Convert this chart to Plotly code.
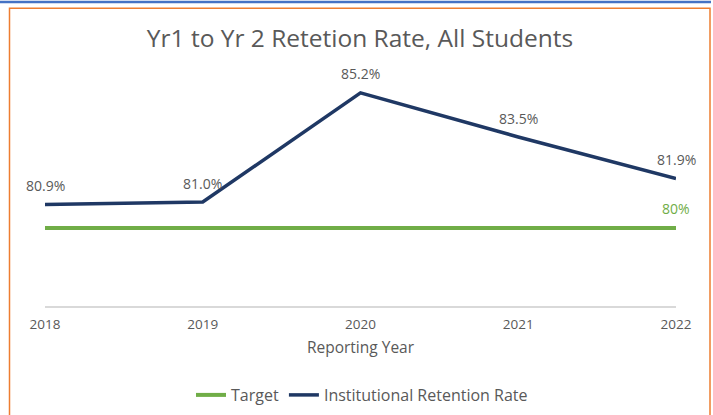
import plotly.graph_objects as go

years = [2018, 2019, 2020, 2021, 2022]
retention = [80.9, 81.0, 85.2, 83.5, 81.9]
target = [80, 80, 80, 80, 80]
retention_labels = ["80.9%", "81.0%", "85.2%", "83.5%", "81.9%"]
target_label = "80%"

W, H = 713, 415
L, R, T, B = 45, 37, 71.5, 109
pw, ph = W - L - R, H - T - B

def px(x):
    return (x - L) / pw

def py(y):
    return (H - B - y) / ph

navy = "#1F3864"
green = "#70AD47"
gray = "#595959"
font = "Open Sans"

fig = go.Figure()
fig.add_trace(go.Scatter(x=years, y=target, mode="lines", name="Target",
                         line=dict(color=green, width=4)))
fig.add_trace(go.Scatter(x=years, y=retention, mode="lines", name="Institutional Retention Rate",
                         line=dict(color=navy, width=3.5)))

for x, y, t in zip(years, retention, retention_labels):
    fig.add_annotation(x=x, y=y, text=t, showarrow=False, yshift=19,
                       font=dict(family=font, size=14, color=gray))
fig.add_annotation(x=years[-1], y=target[-1], text=target_label, showarrow=False, yshift=20,
                   font=dict(family=font, size=14, color=green))

fig.add_shape(type="rect", xref="paper", yref="paper",
              x0=px(9.5), x1=px(710), y0=py(7.5), y1=py(430),
              line=dict(color="#ED7D31", width=1.5), fillcolor="rgba(0,0,0,0)", layer="below")
fig.add_shape(type="rect", xref="paper", yref="paper",
              x0=px(0), x1=px(711), y0=py(0), y1=py(2.5),
              line=dict(width=0), fillcolor="#4472C4", layer="below")

fig.update_layout(
    width=W, height=H,
    margin=dict(l=L, r=R, t=T, b=B, autoexpand=False),
    paper_bgcolor="white", plot_bgcolor="white",
    font=dict(family=font, color=gray, size=13),
    title=dict(text="Yr1 to Yr 2 Retetion Rate, All Students", x=360 / W, xanchor="center",
               y=1 - 38 / H, yanchor="middle",
               font=dict(family=font, size=24.5, color=gray)),
    xaxis=dict(range=[2018, 2022], tickvals=years, ticktext=[str(y) for y in years],
               showgrid=False, zeroline=False, showline=True, linecolor="#D9D9D9", linewidth=1.5,
               ticks="", tickfont=dict(size=13.5, color=gray), ticklabelstandoff=5,
               automargin=False,
               title=dict(text="Reporting Year", font=dict(size=15.5, color=gray), standoff=10)),
    yaxis=dict(range=[77, 86], visible=False, showgrid=False, zeroline=False),
    legend=dict(orientation="h", xref="container", yref="container",
                x=362 / W, xanchor="center", y=1 - 395 / H, yanchor="middle",
                font=dict(size=16, color=gray), tracegroupgap=0),
    showlegend=True,
)

fig.write_html("out.html", post_script="document.body.style.margin='0';",
               config={"displayModeBar": False})
